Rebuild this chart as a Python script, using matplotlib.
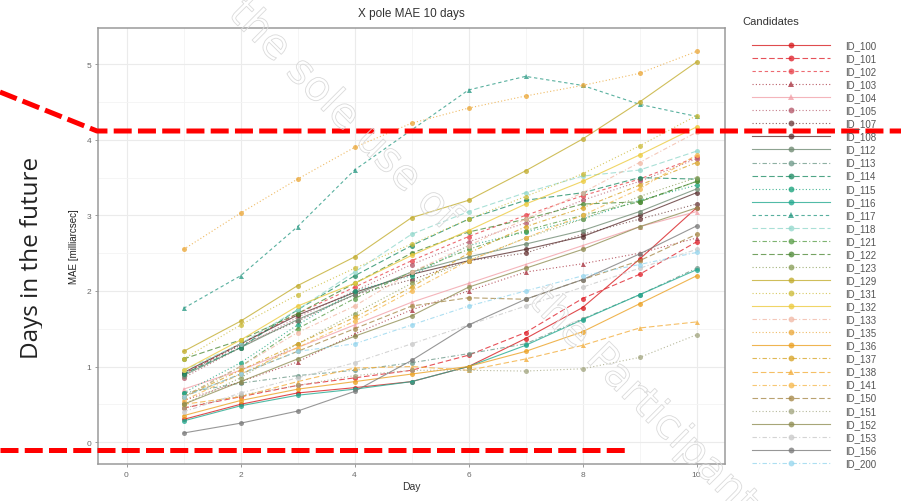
import matplotlib
matplotlib.use('Agg')
import matplotlib.pyplot as plt
from matplotlib.patches import Rectangle
import matplotlib.patheffects as pe

plt.rcParams['font.family'] = ['Liberation Sans', 'DejaVu Sans']

# ---------------- data ----------------
days = [1, 2, 3, 4, 5, 6, 7, 8, 9, 10]
ids = ['ID_100', 'ID_101', 'ID_102', 'ID_103', 'ID_104', 'ID_105', 'ID_107', 'ID_108',
       'ID_112', 'ID_113', 'ID_114', 'ID_115', 'ID_116', 'ID_117', 'ID_118', 'ID_121',
       'ID_122', 'ID_123', 'ID_129', 'ID_131', 'ID_132', 'ID_133', 'ID_135', 'ID_136',
       'ID_137', 'ID_138', 'ID_141', 'ID_150', 'ID_151', 'ID_152', 'ID_153', 'ID_156', 'ID_200']

id_100 = [0.30, 0.50, 0.65, 0.72, 0.80, 1.00, 1.37, 1.78, 2.42, 3.10]
id_101 = [0.45, 0.60, 0.75, 0.85, 0.95, 1.15, 1.45, 1.90, 2.22, 2.65]
id_102 = [0.90, 1.30, 1.70, 2.05, 2.40, 2.72, 3.00, 3.26, 3.48, 3.77]
id_103 = [0.55, 0.80, 1.06, 1.43, 1.75, 2.00, 2.25, 2.36, 2.50, 2.70]
id_104 = [0.70, 0.95, 1.25, 1.55, 1.85, 2.10, 2.35, 2.60, 2.85, 3.05]
id_105 = [0.85, 1.25, 1.65, 2.00, 2.35, 2.65, 2.90, 3.20, 3.45, 3.75]
id_107 = [0.90, 1.28, 1.60, 1.95, 2.15, 2.40, 2.50, 2.75, 2.95, 3.15]
id_108 = [0.92, 1.30, 1.68, 1.98, 2.22, 2.40, 2.55, 2.72, 3.00, 3.30]
id_112 = [0.88, 1.25, 1.62, 1.95, 2.25, 2.45, 2.62, 2.80, 3.05, 3.35]
id_113 = [0.65, 0.78, 0.88, 0.95, 1.05, 1.17, 1.30, 1.63, 1.95, 2.30]
id_114 = [0.90, 1.25, 1.75, 2.20, 2.60, 2.95, 3.20, 3.30, 3.50, 3.48]
id_115 = [0.65, 1.05, 1.55, 2.00, 2.20, 2.60, 2.78, 2.95, 3.20, 3.40]
id_116 = [0.28, 0.48, 0.62, 0.70, 0.80, 1.00, 1.28, 1.62, 1.95, 2.28]
id_117 = [1.77, 2.20, 2.85, 3.60, 4.13, 4.66, 4.84, 4.72, 4.47, 4.31]
id_118 = [0.95, 1.30, 1.75, 2.25, 2.75, 3.05, 3.30, 3.52, 3.60, 3.85]
id_121 = [0.60, 1.00, 1.50, 1.90, 2.25, 2.55, 2.80, 3.00, 3.18, 3.45]
id_122 = [1.10, 1.35, 1.70, 2.10, 2.50, 2.78, 2.95, 3.15, 3.18, 3.45]
id_123 = [0.50, 0.85, 1.30, 1.70, 2.10, 2.40, 2.70, 2.95, 3.25, 3.50]
id_129 = [1.20, 1.60, 2.07, 2.45, 2.97, 3.20, 3.59, 4.01, 4.50, 5.03]
id_131 = [1.10, 1.55, 1.95, 2.30, 2.62, 2.95, 3.25, 3.55, 3.92, 4.32]
id_132 = [0.95, 1.35, 1.80, 2.10, 2.47, 2.80, 3.15, 3.45, 3.80, 4.17]
id_133 = [0.60, 1.00, 1.45, 1.80, 2.25, 2.60, 2.95, 3.30, 3.70, 4.10]
id_135 = [2.55, 3.03, 3.48, 3.90, 4.22, 4.42, 4.58, 4.72, 4.88, 5.17]
id_136 = [0.35, 0.55, 0.70, 0.80, 0.90, 1.00, 1.20, 1.46, 1.83, 2.20]
id_137 = [0.60, 0.95, 1.30, 1.65, 2.05, 2.50, 2.85, 3.10, 3.40, 3.70]
id_138 = [0.50, 0.60, 0.80, 0.98, 1.00, 0.95, 1.10, 1.28, 1.51, 1.59]
id_141 = [0.55, 0.90, 1.25, 1.60, 2.00, 2.40, 2.70, 3.00, 3.35, 3.80]
id_150 = [0.60, 0.90, 1.20, 1.50, 1.80, 1.91, 1.89, 2.15, 2.40, 2.75]
id_151 = [0.45, 0.62, 0.75, 0.88, 0.95, 0.95, 0.94, 0.97, 1.12, 1.42]
id_152 = [0.50, 0.80, 1.10, 1.40, 1.67, 2.05, 2.30, 2.55, 2.85, 3.10]
id_153 = [0.40, 0.65, 0.85, 1.05, 1.30, 1.55, 1.80, 2.05, 2.30, 2.55]
id_156 = [0.12, 0.25, 0.41, 0.67, 1.08, 1.55, 1.89, 2.15, 2.49, 2.86]
id_200 = [0.60, 0.90, 1.20, 1.30, 1.55, 1.80, 2.00, 2.20, 2.35, 2.51]

series = [id_100, id_101, id_102, id_103, id_104, id_105, id_107, id_108,
          id_112, id_113, id_114, id_115, id_116, id_117, id_118, id_121,
          id_122, id_123, id_129, id_131, id_132, id_133, id_135, id_136,
          id_137, id_138, id_141, id_150, id_151, id_152, id_153, id_156, id_200]

# ---------------- styles ----------------
colors = ['#d7191c', '#e0202a', '#e8424a', '#a8323f', '#f2a0a8', '#b5596a', '#6d3b3b', '#5b3030',
          '#6f8a72', '#6f9a8a', '#1e8c64', '#1aa37c', '#20a88e', '#2a9a84', '#92d8cc', '#5a9e48',
          '#4e8a36', '#8a9e58', '#c2ac2c', '#ccbb38', '#ecca3c', '#f2b9a6', '#eba83a', '#eba020',
          '#d8a428', '#f3ad3a', '#f6b84c', '#a68848', '#a3a680', '#8f8d52', '#c9c9c9', '#7a7a7a',
          '#96d6ee']
D = (0, (5, 2.5))
DD = (0, (3, 2.5))
DT = (0, (1, 2))
DDT = (0, (4, 2, 1, 2))
lstyles = ['-', D, DD, DT, '-', DT, DT, '-',
           '-', DDT, D, DT, '-', DD, D, DDT,
           D, DT, '-', DT, '-', DDT, DT, '-',
           DDT, D, DDT, D, DT, '-', DDT, '-',
           DDT]
markers = ['o', 'o', 'o', '^', '^', 'o', 'o', 'o',
           'o', 'o', 'o', 'o', 'o', '^', 'o', 'o',
           'o', 'o', 'o', 'o', 'o', 'o', 'o', 'o',
           'o', '^', 'o', 'o', 'o', 'o', 'o', 'o',
           'o']

W, H = 901, 502
fig = plt.figure(figsize=(W / 100, H / 100), dpi=100)

# ---- background overlay: side text, then white "image" area ----
back = fig.add_axes([0, 0, 1, 1], zorder=0)
back.set_xlim(0, W)
back.set_ylim(H, 0)
back.axis('off')
back.text(38, 258, 'Days in the future', rotation=90, rotation_mode='anchor',
          ha='center', va='baseline', fontsize=17.5, color='#222222', family='Open Sans')
back.add_patch(Rectangle((42, 0), W - 42, H, facecolor='white', edgecolor='none', zorder=5))

# ---- main plot ----
L, R, T, B = 98, 725, 29, 465
ax = fig.add_axes([L / W, 1 - B / H, (R - L) / W, (B - T) / H], zorder=1)
for vals, c, ls, m in zip(series, colors, lstyles, markers):
    ax.plot(days, vals, color=c, linestyle=ls, linewidth=0.8, marker=m,
            markersize=3.6, markeredgewidth=0, alpha=0.78)
ax.set_xlim(-0.5, 10.5)
ax.set_ylim(-0.29, 5.48)
ax.set_xticks([0, 2, 4, 6, 8, 10])
ax.set_xticks([1, 3, 5, 7, 9], minor=True)
ax.set_yticks([0, 1, 2, 3, 4, 5])
ax.set_yticks([0.5, 1.5, 2.5, 3.5, 4.5], minor=True)
ax.grid(which='major', color='#ebebeb', linewidth=0.8)
ax.grid(which='minor', color='#f4f4f4', linewidth=0.6)
ax.set_axisbelow(True)
for s in ax.spines.values():
    s.set_color('#9a9a9a')
    s.set_linewidth(1.1)
ax.tick_params(which='major', length=2.5, width=0.6, color='#8a8a8a', labelsize=6,
               labelcolor='#6a6a6a', pad=2.5)
ax.tick_params(which='minor', length=0)

fig.text(411 / W, 1 - 14 / H, 'X pole MAE 10 days', ha='center', va='center',
         fontsize=8.5, color='#333333')
fig.text(74 / W, 1 - 247 / H, 'MAE [milliarcsec]', ha='center', va='center',
         rotation=90, fontsize=7, color='#222222')
fig.text(411 / W, 1 - 487 / H, 'Day', ha='center', va='center', fontsize=7.5, color='#333333')

# ---- front overlay: legend, watermark, annotations ----
front = fig.add_axes([0, 0, 1, 1], zorder=2)
front.set_xlim(0, W)
front.set_ylim(H, 0)
front.axis('off')

front.text(742, 22, 'Candidates', ha='left', va='center', fontsize=8, color='#333333')
for i, (lab, c, ls, m) in enumerate(zip(ids, colors, lstyles, markers)):
    yy = 46 + i * 13.06
    front.plot([752, 830], [yy, yy], color=c, linestyle=ls, linewidth=0.8, alpha=0.78)
    front.plot([791], [yy], color=c, marker=m, markersize=4.2, markeredgewidth=0, alpha=0.78)
    front.text(845, yy, lab, ha='left', va='center', fontsize=7, color='#555555')

wm_kw = dict(rotation=-45, rotation_mode='anchor', ha='left', va='baseline', fontsize=30,
             color=(1, 1, 1, 0), family='DejaVu Sans')
wm1 = front.text(227, 16, 'the sole use of', **wm_kw)
wm2 = front.text(527, 303, 'the Participants', **wm_kw)
for w in (wm1, wm2):
    w.set_path_effects([pe.Stroke(linewidth=0.6, foreground='#dadada')])

red_kw = dict(color='#ff0000', linewidth=3.6, dashes=(3.6, 1.25), dash_capstyle='butt')
front.plot([0, 97, 901], [93, 132, 132], **red_kw)
front.plot([0, 630], [451, 451], **red_kw)

fig.savefig('out.png', dpi=100, facecolor='white')
